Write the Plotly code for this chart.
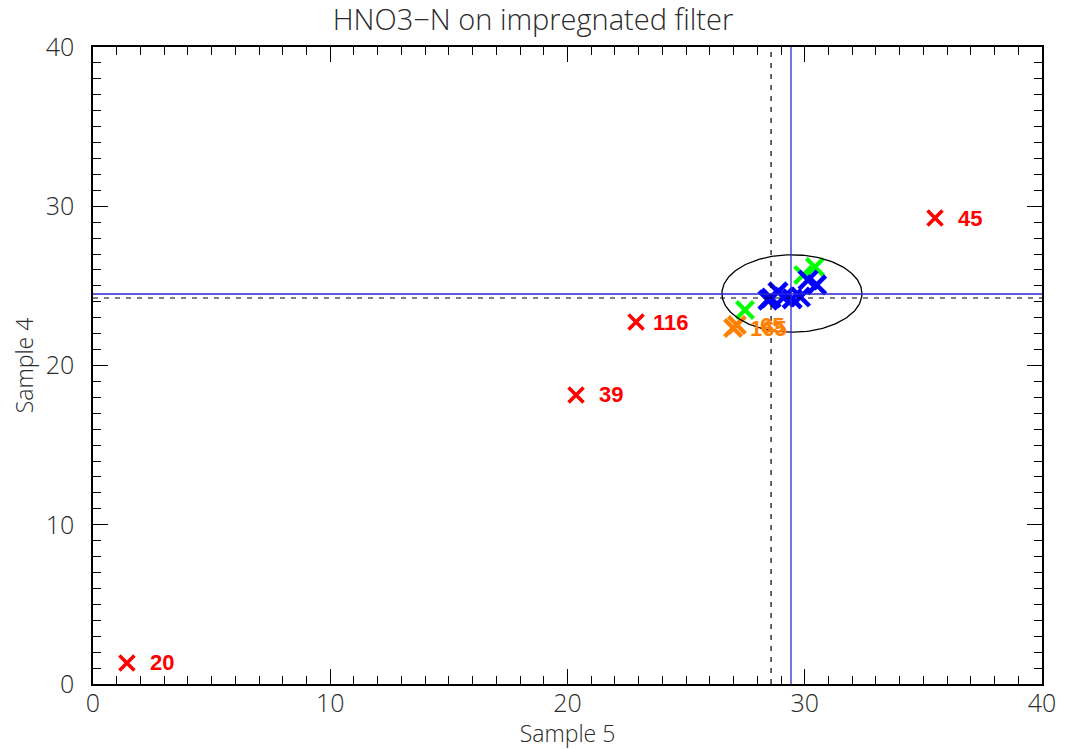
import numpy as np
import plotly.graph_objects as go

# Sample 5 (x) vs Sample 4 (y), HNO3-N on impregnated filter
red_x = [1.43, 20.36, 22.89, 35.49]
red_y = [1.32, 18.15, 22.73, 29.26]
red_ids = [20, 39, 116, 45]

orange_x = [26.98, 27.14]
orange_y = [22.35, 22.54]
orange_ids = [165, 65]

green_x = [27.48, 29.93, 30.43]
green_y = [23.48, 25.68, 26.19]

blue_x = [28.45, 28.58, 28.87, 29.13, 29.47, 29.82, 30.14, 30.50]
blue_y = [24.11, 24.24, 24.62, 24.30, 24.18, 24.30, 25.37, 25.06]

mean_x, mean_y = 29.42, 24.49
median_x, median_y = 28.58, 24.24
ellipse_cx, ellipse_cy = 29.46, 24.52
ellipse_ax, ellipse_ay = 2.95, 2.43

x_ticks = [0, 10, 20, 30, 40]
y_ticks = [0, 10, 20, 30, 40]

FONT = "Open Sans"
TXT = "#2a2a2a"

fig = go.Figure()

# reference lines: median (dashed black) and mean (solid blue)
fig.add_vline(x=median_x, line=dict(color="black", width=1.2, dash="5px,6px"))
fig.add_hline(y=median_y, line=dict(color="black", width=1.2, dash="5px,6px"))
fig.add_vline(x=mean_x, line=dict(color="#2a2ad0", width=1.3))
fig.add_hline(y=mean_y, line=dict(color="#2a2ad0", width=1.3))


def cross(xs, ys, color, size, width):
    return go.Scatter(
        x=xs, y=ys, mode="markers", showlegend=False, hoverinfo="skip",
        marker=dict(symbol="x-thin", size=size, line=dict(color=color, width=width)),
    )


fig.add_trace(cross(green_x, green_y, "#00ff00", 17, 4.2))
fig.add_trace(cross(orange_x, orange_y, "#ff8000", 17, 4.2))
fig.add_trace(cross(blue_x, blue_y, "#0000ff", 18, 4.5))
fig.add_trace(cross(red_x, red_y, "#ff0000", 15, 3.6))

# ellipse around the cluster
t = np.linspace(0, 2 * np.pi, 200)
fig.add_trace(go.Scatter(
    x=ellipse_cx + ellipse_ax * np.cos(t), y=ellipse_cy + ellipse_ay * np.sin(t),
    mode="lines", line=dict(color="black", width=1.3), showlegend=False, hoverinfo="skip",
))


# point labels, right-aligned in a 3-character field
def add_labels(xs, ys, ids, color):
    for x, y, n in zip(xs, ys, ids):
        fig.add_annotation(
            x=x, y=y, text=f"{n:>3}".replace(" ", "\u00a0"), showarrow=False,
            xanchor="left", yanchor="middle", xshift=15,
            font=dict(family="Liberation Sans", size=22, color=color, weight="bold"),
        )


add_labels(red_x, red_y, red_ids, "#ff0000")
add_labels(orange_x, orange_y, orange_ids, "#ff8000")

axis_common = dict(
    range=[0, 40], showgrid=False, zeroline=False, automargin=False,
    showline=True, linecolor="black", linewidth=1.5, mirror="ticks",
    ticks="inside", ticklen=15, tickwidth=1.2, tickcolor="black",
    minor=dict(dtick=1, ticks="inside", ticklen=8, tickwidth=1, tickcolor="black"),
    tickfont=dict(family=FONT, size=25, color=TXT, weight=300),
)

fig.update_xaxes(
    **axis_common, tickvals=x_ticks, ticktext=[str(v) for v in x_ticks],
    ticklabelstandoff=-4,
    title=dict(text="Sample 5", font=dict(family=FONT, size=23, color=TXT, weight=300), standoff=0),
)
fig.update_yaxes(
    **axis_common, tickvals=y_ticks, ticktext=[str(v) for v in y_ticks],
    ticklabelstandoff=12,
    title=dict(text="Sample 4", font=dict(family=FONT, size=23, color=TXT, weight=300), standoff=6),
)

fig.update_layout(
    width=1066, height=749,
    margin=dict(l=93, r=24, t=47, b=65, autoexpand=False),
    paper_bgcolor="white", plot_bgcolor="white",
    title=dict(text="HNO3\u2212N on impregnated filter", x=0.5, xanchor="center",
               yref="container", y=0.974, yanchor="middle", automargin=False,
               font=dict(family=FONT, size=29, color=TXT, weight=300)),
)

fig.write_html("out.html")
